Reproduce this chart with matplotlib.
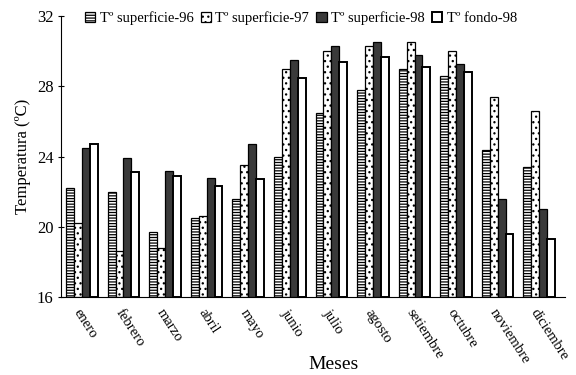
import numpy as np
import matplotlib.pyplot as plt
import matplotlib as mpl

mpl.rcParams['font.family'] = ['Liberation Serif', 'DejaVu Serif']
mpl.rcParams['hatch.linewidth'] = 0.9

meses = ['enero', 'febrero', 'marzo', 'abril', 'mayo', 'junio', 'julio',
         'agosto', 'setiembre', 'octubre', 'noviembre', 'diciembre']
sup96 = [22.2, 22.0, 19.7, 20.5, 21.6, 24.0, 26.5, 27.8, 29.0, 28.6, 24.4, 23.4]
sup97 = [20.2, 18.6, 18.8, 20.6, 23.5, 29.0, 30.0, 30.3, 30.5, 30.0, 27.4, 26.6]
sup98 = [24.5, 23.9, 23.2, 22.8, 24.7, 29.5, 30.3, 30.5, 29.8, 29.3, 21.6, 21.0]
fondo98 = [24.7, 23.1, 22.9, 22.3, 22.7, 28.5, 29.4, 29.7, 29.1, 28.8, 19.6, 19.3]

series = [
    ('Tº superficie-96', sup96, 'white', '------'),
    ('Tº superficie-97', sup97, 'white', '...'),
    ('Tº superficie-98', sup98, '#3a3a3a', None),
    ('Tº fondo-98', fondo98, 'white', None),
]

fig = plt.figure(figsize=(5.76, 3.75), dpi=100)
ax = fig.add_axes([0.106, 0.208, 0.875, 0.749])

x = np.arange(len(meses))
w = 0.19
for i, (name, vals, fc, hatch) in enumerate(series):
    lw = 1.4 if name.startswith('Tº fondo') else 0.9
    ax.bar(x + (i - 1.5) * w, np.array(vals) - 16, w, bottom=16,
           color=fc, edgecolor='black', hatch=hatch, linewidth=lw, label=name)

ax.set_ylim(16, 32)
ax.set_xlim(-0.5, 11.62)
ax.set_yticks([16, 20, 24, 28, 32])
ax.tick_params(axis='y', labelsize=12, length=4, direction='inout')
ax.set_xticks(x)
ax.set_xticklabels(meses, rotation=-57, ha='left', rotation_mode='anchor', fontsize=10.5)
ax.tick_params(axis='x', length=0, pad=7)
ax.spines['top'].set_visible(False)
ax.spines['right'].set_visible(False)
ax.set_ylabel('Temperatura (ºC)', fontsize=12)
ax.set_xlabel('Meses', fontsize=14, va='center')
ax.xaxis.set_label_coords(0.54, -0.24)

ax.legend(loc='upper center', bbox_to_anchor=(0.476, 1.065), ncol=4, frameon=False,
          fontsize=10.5, handlelength=0.7, handleheight=0.7, handletextpad=0.3,
          columnspacing=0.5)

fig.savefig('out.png', dpi=100)
